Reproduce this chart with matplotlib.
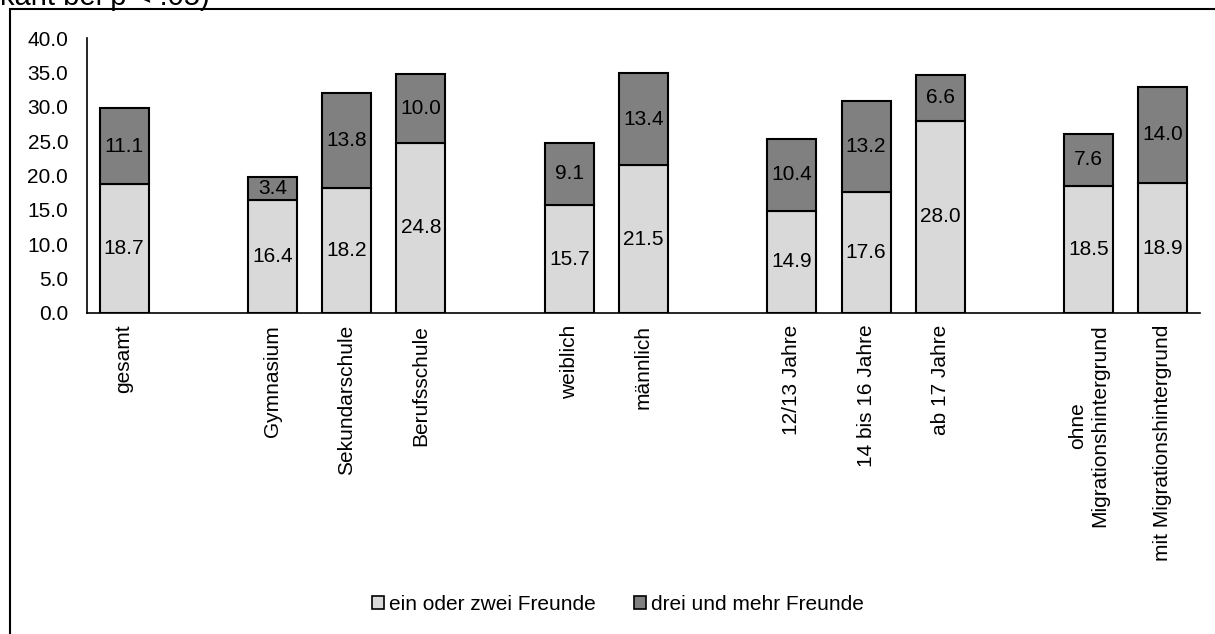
import matplotlib
matplotlib.use("Agg")
import matplotlib.pyplot as plt
from matplotlib.patches import Rectangle, Patch
from matplotlib.ticker import FormatStrFormatter

plt.rcParams['font.family'] = ['Liberation Sans', 'DejaVu Sans']

# Categories (empty strings are spacer slots between groups)
categories = ["gesamt", "", "Gymnasium", "Sekundarschule", "Berufsschule", "",
              "weiblich", "männlich", "", "12/13 Jahre", "14 bis 16 Jahre", "ab 17 Jahre", "",
              "ohne\nMigrationshintergrund", "mit Migrationshintergrund"]
ein_oder_zwei = [18.7, None, 16.4, 18.2, 24.8, None, 15.7, 21.5, None, 14.9, 17.6, 28.0, None, 18.5, 18.9]
drei_und_mehr = [11.1, None, 3.4, 13.8, 10.0, None, 9.1, 13.4, None, 10.4, 13.2, 6.6, None, 7.6, 14.0]
series_names = ["ein oder zwei Freunde", "drei und mehr Freunde"]
yticks = [0, 5, 10, 15, 20, 25, 30, 35, 40]

c_light = "#D9D9D9"
c_dark = "#808080"
FS = 15

fig = plt.figure(figsize=(12.15, 6.34), dpi=100)
ax = fig.add_axes([87/1215, 1 - 313/634, (1200-87)/1215, (313-38)/634])

xs = [i for i, v in enumerate(ein_oder_zwei) if v is not None]
v1 = [ein_oder_zwei[i] for i in xs]
v2 = [drei_und_mehr[i] for i in xs]

w = 0.66
ax.bar(xs, v1, width=w, color=c_light, edgecolor="black", linewidth=1.5)
ax.bar(xs, v2, width=w, bottom=v1, color=c_dark, edgecolor="black", linewidth=1.5)

for x, a, b in zip(xs, v1, v2):
    ax.text(x, a / 2, f"{a:.1f}", ha="center", va="center", fontsize=FS)
    ax.text(x, a + b / 2, f"{b:.1f}", ha="center", va="center", fontsize=FS)

ax.set_xlim(-0.5, len(categories) - 0.5)
ax.set_ylim(0, 40)
ax.set_yticks(yticks)
ax.yaxis.set_major_formatter(FormatStrFormatter("%.1f"))
ax.set_xticks(range(len(categories)))
ax.set_xticklabels(categories, rotation=90, fontsize=FS, multialignment="center")
ax.tick_params(axis="x", length=0, pad=8.5)
ax.tick_params(axis="y", length=0, pad=13.5, labelsize=FS)
for s in ["top", "right"]:
    ax.spines[s].set_visible(False)
for s in ["left", "bottom"]:
    ax.spines[s].set_linewidth(1.2)

handles = [Patch(facecolor=c_light, edgecolor="black", linewidth=1.2),
           Patch(facecolor=c_dark, edgecolor="black", linewidth=1.2)]
fig.legend(handles, series_names, loc="center", bbox_to_anchor=(618/1215, 1 - 604/634),
           ncol=2, frameon=False, fontsize=FS, handlelength=0.6, handleheight=0.6,
           handletextpad=0.25, columnspacing=1.8, borderpad=0.2)

# outer frame (cropped at right and bottom)
fig.patches.append(Rectangle((10/1215, -0.1), 1.2, 1 - 9/634 + 0.1, transform=fig.transFigure,
                             fill=False, edgecolor="black", linewidth=1.5, clip_on=False))
# caption fragment cut off at the top edge, as in the reference
fig.text(0.0, 1 - 5/634, "kant bei p < .05)", ha="left", va="baseline", fontsize=21)

fig.savefig("out.png", dpi=100)
